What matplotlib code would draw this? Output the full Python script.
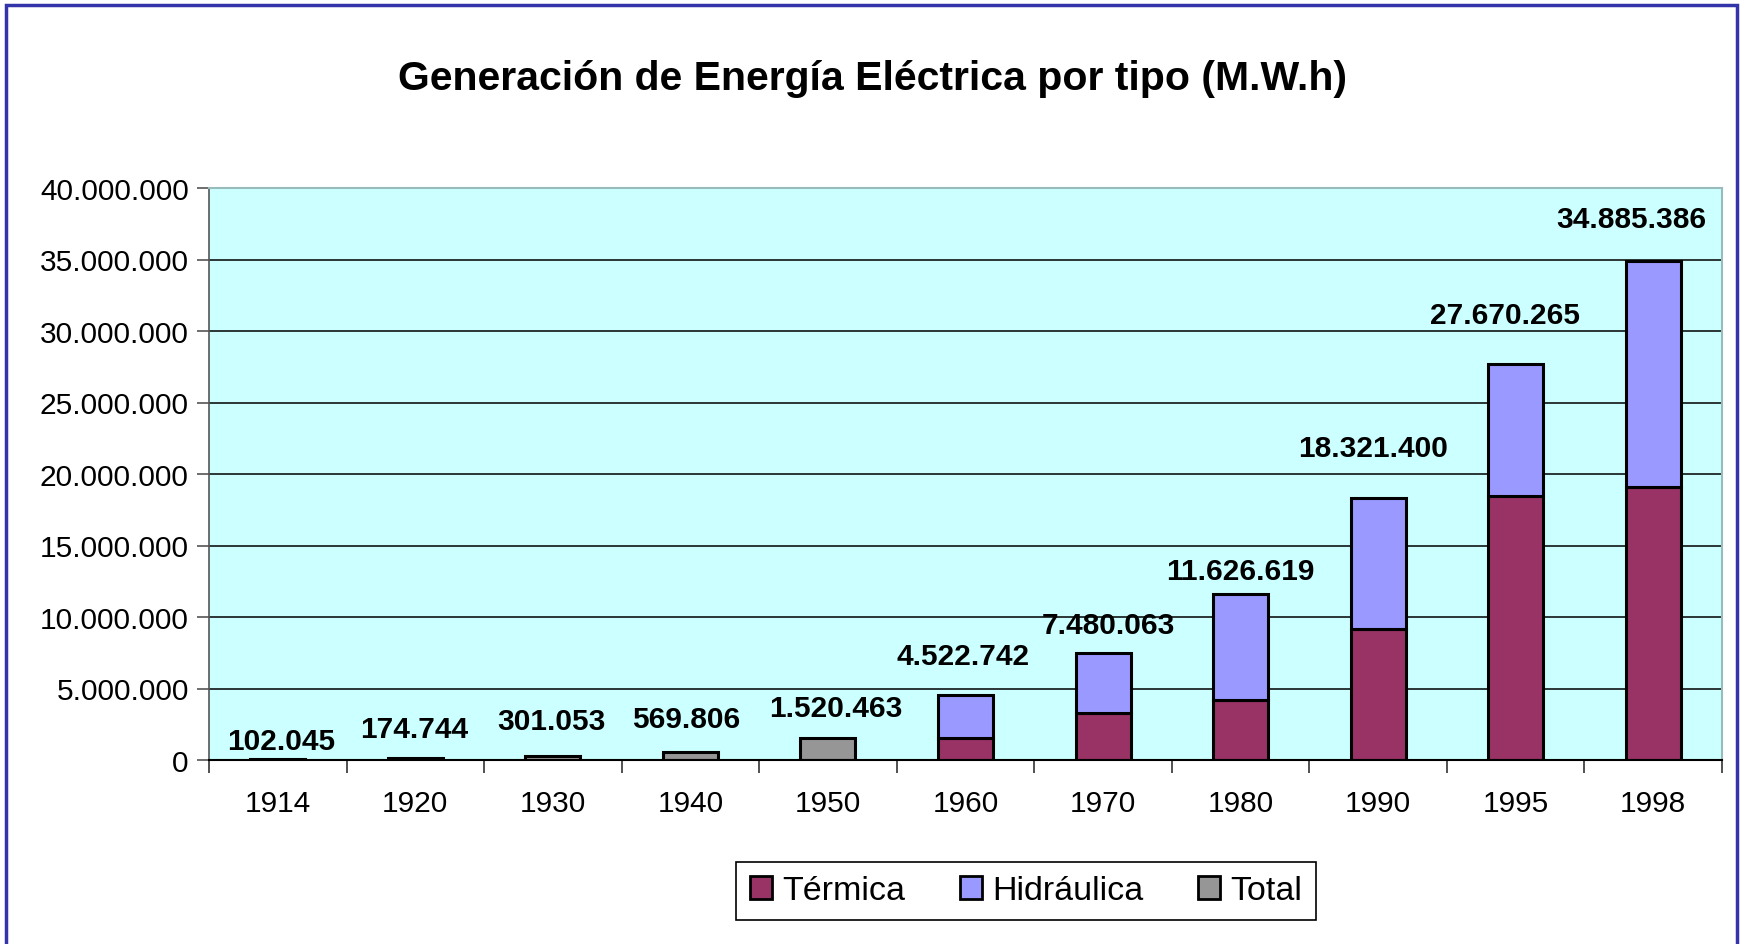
import numpy as np
import matplotlib
matplotlib.use("Agg")
import matplotlib.pyplot as plt
from matplotlib.patches import Rectangle, Patch

years = ["1914", "1920", "1930", "1940", "1950", "1960", "1970", "1980", "1990", "1995", "1998"]
totals = [102045, 174744, 301053, 569806, 1520463, 4522742, 7480063, 11626619, 18321400, 27670265, 34885386]
termica = [np.nan, np.nan, np.nan, np.nan, np.nan, 1510000, 3260000, 4210000, 9190000, 18440000, 19070000]
hidraulica = [np.nan if np.isnan(t) else tot - t for t, tot in zip(termica, totals)]
total_only = [tot if np.isnan(t) else np.nan for t, tot in zip(termica, totals)]
yticks = [0, 5000000, 10000000, 15000000, 20000000, 25000000, 30000000, 35000000, 40000000]

# label offsets (pixels) relative to top of each bar -- styling only
lab_dx = [3, -1, -1, -4, 8, -2, 5, 0, -5, -11, -22]
lab_dy = [18, 29, 35, 33, 30, 39, 28, 23, 50, 49, 42]

plt.rcParams['font.family'] = ['Liberation Sans', 'DejaVu Sans']

fig = plt.figure(figsize=(17.46, 9.45), dpi=100)
ax = fig.add_axes([209/1746, 1-761/945, (1722-209)/1746, (761-189)/945])
ax.set_facecolor('#CCFFFF')

x = np.arange(len(years))
w = 0.40
c_term = '#993366'
c_hid = '#9999FF'
c_tot = '#969696'

def barset(vals, bottom, color):
    xs, hs, bs = [], [], []
    for i, v in enumerate(vals):
        if not np.isnan(v):
            xs.append(x[i]); hs.append(v)
            bs.append(0 if bottom is None else bottom[i])
    ax.bar(xs, hs, w, bottom=bs, color=color, edgecolor='black', linewidth=2.2, zorder=3)

barset(termica, None, c_term)
barset(hidraulica, termica, c_hid)
barset(total_only, None, c_tot)

for i, tot in enumerate(totals):
    s = f"{tot:,}".replace(",", ".")
    ax.annotate(s, (x[i], tot), xytext=(lab_dx[i], lab_dy[i]), textcoords='offset pixels',
                ha='center', va='center', fontsize=21.5, fontweight='bold', zorder=5)

ax.set_xlim(-0.5, len(years) - 0.5)
ax.set_ylim(0, 40000000)
ax.set_yticks(yticks)
ax.set_yticklabels([f"{v:,}".replace(",", ".") for v in yticks], fontsize=21.5)
ax.set_xticks(x)
ax.set_xticklabels(years, fontsize=21.5)
ax.set_xticks(np.arange(-0.5, len(years)), minor=True)
ax.tick_params(axis='x', which='major', length=0, pad=21)
ax.tick_params(axis='x', which='minor', length=9, width=1.2, color='#333333')
ax.tick_params(axis='y', length=9, width=1.2, color='#555555', pad=5.5)

ax.grid(axis='y', color='black', linewidth=1.1, zorder=1)
ax.set_axisbelow(True)
for side in ['top', 'right']:
    ax.spines[side].set_color('#99BBBB')
    ax.spines[side].set_linewidth(1.5)
ax.spines['left'].set_color('#555555')
ax.spines['left'].set_linewidth(1.2)
ax.spines['bottom'].set_color('black')
ax.spines['bottom'].set_linewidth(1.5)
ax.spines['bottom'].set_zorder(4)

fig.text(0.5, 1-79/945, "Generación de Energía Eléctrica por tipo (M.W.h)",
         ha='center', va='center', fontsize=29.5, fontweight='bold')

handles = [Patch(facecolor=c_term, edgecolor='black', linewidth=2),
           Patch(facecolor=c_hid, edgecolor='black', linewidth=2),
           Patch(facecolor=c_tot, edgecolor='black', linewidth=2)]
leg = fig.legend(handles, ["Térmica", "Hidráulica", "Total"], loc='center',
                 bbox_to_anchor=(1026/1746, 1-892/945), ncol=3, fontsize=24.5,
                 frameon=True, fancybox=False, edgecolor='black', framealpha=1,
                 handlelength=0.65, handleheight=0.65, handletextpad=0.3,
                 columnspacing=1.6, borderpad=0.4)
leg.get_frame().set_linewidth(1.2)

fig.patches.append(Rectangle((6/1746, -0.05), (1737-6)/1746, 1.05 - 6/945,
                             transform=fig.transFigure, fill=False,
                             edgecolor='#3333AA', linewidth=2.5))

fig.savefig("out.png", dpi=100)
